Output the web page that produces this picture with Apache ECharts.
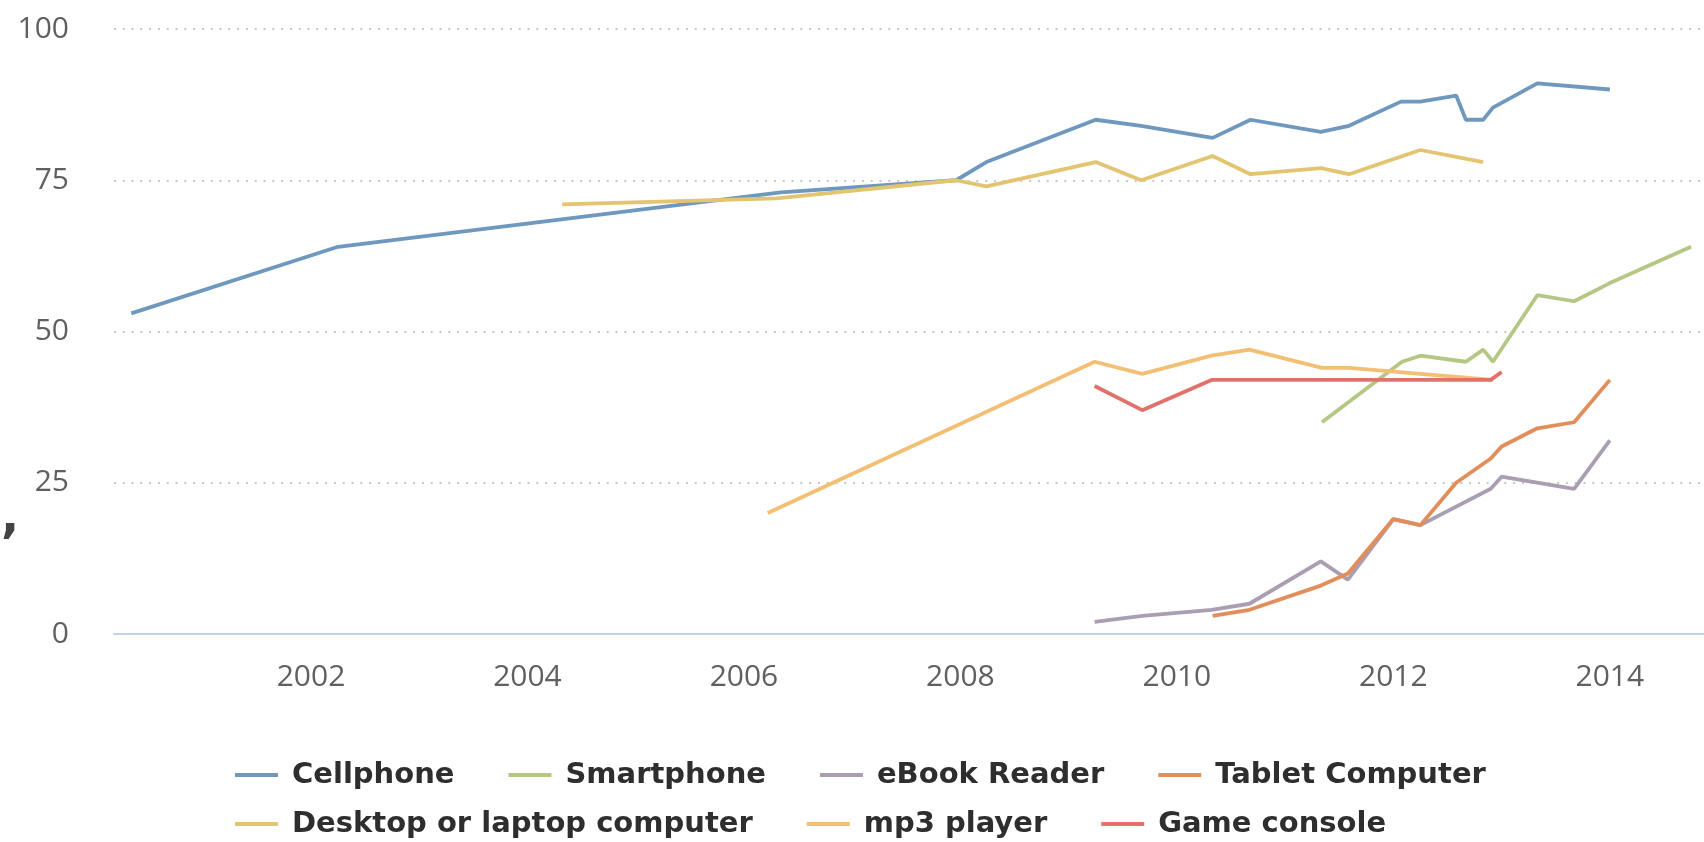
<!DOCTYPE html>
<html>
<head>
<meta charset="utf-8">
<script src="https://cdn.jsdelivr.net/npm/echarts@6/dist/echarts.min.js"></script>
<style>
html,body{margin:0;padding:0;background:#fff;}
#chart{width:1704px;height:842px;}
</style>
</head>
<body>
<div id="chart"></div>
<script>
// Data: [year, percent]
const cellphone = [[2000.34,53],[2002.25,64],[2006.34,73],[2007.96,75],[2008.24,78],[2009.25,85],[2009.67,84],[2010.33,82],[2010.68,85],[2011.33,83],[2011.59,84],[2012.07,88],[2012.25,88],[2012.58,89],[2012.67,85],[2012.83,85],[2012.92,87],[2013.33,91],[2014.0,90]];
const smartphone = [[2011.34,35],[2012.08,45],[2012.25,46],[2012.67,45],[2012.83,47],[2012.92,45],[2013.33,56],[2013.67,55],[2014.0,58],[2014.75,64]];
const ebookReader = [[2009.24,2],[2009.68,3],[2010.32,4],[2010.67,5],[2011.33,12],[2011.58,9],[2012.0,19],[2012.25,18],[2012.9,24],[2013.0,26],[2013.67,24],[2014.0,32]];
const tabletComputer = [[2010.33,3],[2010.67,4],[2011.33,8],[2011.58,10],[2012.0,19],[2012.25,18],[2012.58,25],[2012.9,29],[2013.0,31],[2013.33,34],[2013.67,35],[2014.0,42]];
const desktopLaptop = [[2004.32,71],[2006.3,72],[2007.96,75],[2008.24,74],[2009.25,78],[2009.67,75],[2010.33,79],[2010.68,76],[2011.33,77],[2011.59,76],[2012.25,80],[2012.83,78]];
const mp3Player = [[2006.22,20],[2009.24,45],[2009.68,43],[2010.32,46],[2010.67,47],[2011.34,44],[2011.59,44],[2012.25,43],[2012.92,42]];
const gameConsole = [[2009.24,41],[2009.68,37],[2010.32,42],[2010.67,42],[2011.34,42],[2012.9,42],[2013.0,43.3]];

const seriesNames = ['Cellphone','Smartphone','eBook Reader','Tablet Computer','Desktop or laptop computer','mp3 player','Game console'];
const xTickLabels = [2002,2004,2006,2008,2010,2012,2014];
const yTickLabels = [0,25,50,75,100];

const colors = ['#6f98be','#b4c784','#a99eb2','#e28e5a','#e3c470','#f2bf75','#e2716b'];
const dataList = [cellphone, smartphone, ebookReader, tabletComputer, desktopLaptop, mp3Player, gameConsole];

const chart = echarts.init(document.getElementById('chart'), null, {renderer:'canvas'});

const legendBase = {
  orient: 'horizontal',
  left: 235,
  padding: 0,
  icon: 'rect',
  itemWidth: 43,
  itemHeight: 4,
  itemGap: 54,
  textStyle: {
    fontFamily: 'DejaVu Sans',
    fontWeight: 'bold',
    fontSize: 29,
    color: '#2e2e2e',
    lineHeight: 34,
    padding: [0,0,0,9]
  }
};

const option = {
  animation: false,
  color: colors,
  graphic: [{
    type: 'text',
    left: 1,
    top: 496,
    style: { text: ',', font: 'bold 48px "DejaVu Sans"', fill: '#444' }
  }],
  legend: [
    Object.assign({}, legendBase, { top: 758, data: seriesNames.slice(0,4) }),
    Object.assign({}, legendBase, { top: 807, data: seriesNames.slice(4) })
  ],
  grid: { left: 114, right: 0, top: 29, bottom: 208, containLabel: false },
  xAxis: {
    type: 'value',
    min: 2000.18,
    max: 2014.87,
    axisLine: { show: true, lineStyle: { color: '#c4d2e2', width: 2 } },
    axisTick: { show: false },
    splitLine: { show: false },
    axisLabel: {
      customValues: xTickLabels,
      formatter: v => String(Math.round(v)),
      fontFamily: 'Open Sans',
      fontSize: 30,
      color: '#606060',
      margin: 28
    }
  },
  yAxis: {
    type: 'value',
    min: 0,
    max: 100,
    interval: 25,
    axisLine: { show: false },
    axisTick: { show: false },
    splitLine: { show: true, lineStyle: { color: '#c2c2c2', width: 1.8, type: [1.8, 7] } },
    axisLabel: {
      customValues: yTickLabels,
      fontFamily: 'Open Sans',
      fontSize: 30,
      color: '#606060',
      margin: 45,
      padding: [0,0,12,0]
    }
  },
  series: seriesNames.map((name, i) => ({
    name: name,
    type: 'line',
    data: dataList[i],
    showSymbol: false,
    symbol: 'none',
    lineStyle: { width: 3.8, color: colors[i] },
    itemStyle: { color: colors[i] }
  }))
};
chart.setOption(option);
</script>
</body>
</html>
